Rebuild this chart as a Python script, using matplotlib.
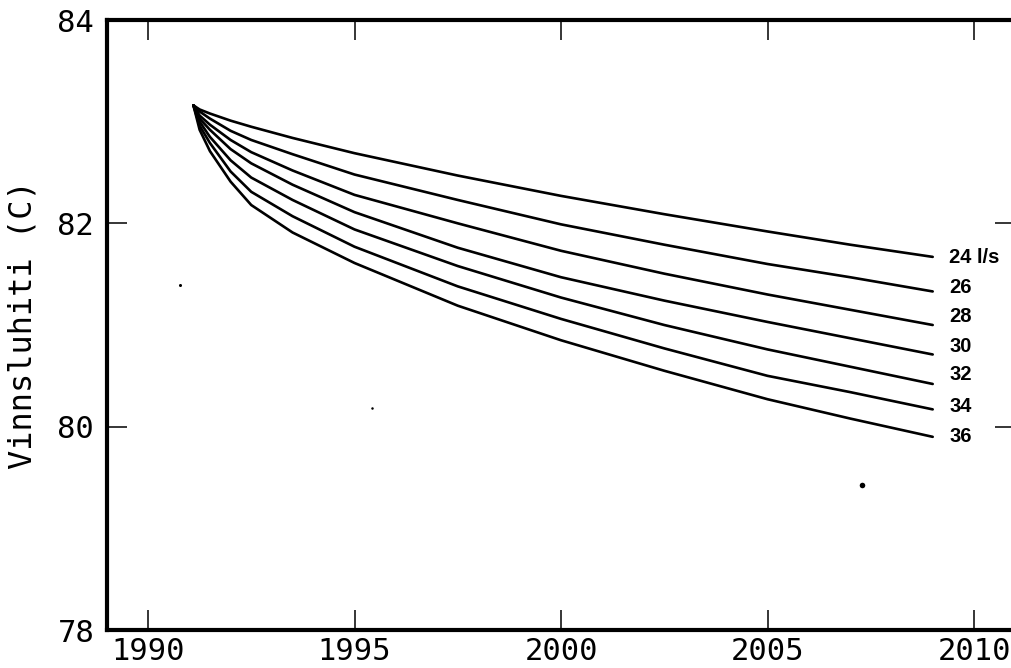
import matplotlib
matplotlib.use("Agg")
import matplotlib.pyplot as plt

# ---- data ----
years = [1991.1, 1991.25, 1991.5, 1992.0, 1992.5, 1993.5, 1995.0,
         1997.5, 2000.0, 2002.5, 2005.0, 2007.0, 2009.0]
flow_labels = ["24 l/s", "26", "28", "30", "32", "34", "36"]
temp_24 = [83.16, 83.12, 83.08, 83.01, 82.95, 82.84, 82.69, 82.47, 82.27, 82.09, 81.92, 81.79, 81.67]
temp_26 = [83.16, 83.10, 83.03, 82.91, 82.82, 82.68, 82.48, 82.23, 81.99, 81.79, 81.60, 81.47, 81.33]
temp_28 = [83.16, 83.06, 82.97, 82.82, 82.70, 82.52, 82.28, 82.00, 81.73, 81.505, 81.30, 81.15, 81.00]
temp_30 = [83.16, 83.03, 82.92, 82.73, 82.59, 82.38, 82.11, 81.76, 81.47, 81.24, 81.03, 80.87, 80.71]
temp_32 = [83.16, 83.00, 82.85, 82.62, 82.45, 82.23, 81.94, 81.58, 81.27, 81.00, 80.76, 80.59, 80.42]
temp_34 = [83.16, 82.96, 82.79, 82.51, 82.31, 82.07, 81.77, 81.38, 81.06, 80.77, 80.50, 80.34, 80.17]
temp_36 = [83.16, 82.92, 82.71, 82.41, 82.18, 81.91, 81.61, 81.19, 80.85, 80.55, 80.27, 80.08, 79.90]
series = [temp_24, temp_26, temp_28, temp_30, temp_32, temp_34, temp_36]
label_y = [81.66, 81.365, 81.08, 80.785, 80.51, 80.195, 79.90]
stray_x = [1990.77, 1995.42, 2007.28]
stray_y = [81.39, 80.18, 79.43]
stray_size = [2.2, 1.8, 4.0]
xticks = [1990, 1995, 2000, 2005, 2010]
yticks = [78, 80, 82, 84]

fig = plt.figure(figsize=(10.12, 6.68), dpi=100)
ax = fig.add_axes([106.7 / 1012, 38 / 668, 908.6 / 1012, 610 / 668])

for s in series:
    ax.plot(years, s, color="black", lw=1.9, solid_joinstyle="round",
            solid_capstyle="round")

for lab, ly in zip(flow_labels, label_y):
    ax.text(2009.4, ly, lab, fontsize=14.5, fontweight="bold",
            family="Liberation Sans", va="center", ha="left")

for sx, sy, ss in zip(stray_x, stray_y, stray_size):
    ax.plot(sx, sy, "o", color="black", ms=ss, mew=0)

ax.set_xlim(1989, 2011)
ax.set_ylim(78, 84)
ax.set_xticks(xticks)
ax.set_yticks(yticks)
ax.set_xticklabels([str(t) for t in xticks])
ax.set_yticklabels([str(t) for t in yticks])

for sp in ax.spines.values():
    sp.set_linewidth(3)
ax.tick_params(direction="in", length=14.5, width=1.1, top=True, right=True,
               labelsize=22)
ax.tick_params(axis="x", pad=5)
ax.tick_params(axis="y", pad=9)
for t in ax.get_xticklabels() + ax.get_yticklabels():
    t.set_family("DejaVu Sans Mono")

ax.set_ylabel("Vinnsluhiti (C)", fontsize=23, family="DejaVu Sans Mono")
ax.yaxis.set_label_coords(-0.0756, 0.5)

fig.savefig("out.png", dpi=100)
